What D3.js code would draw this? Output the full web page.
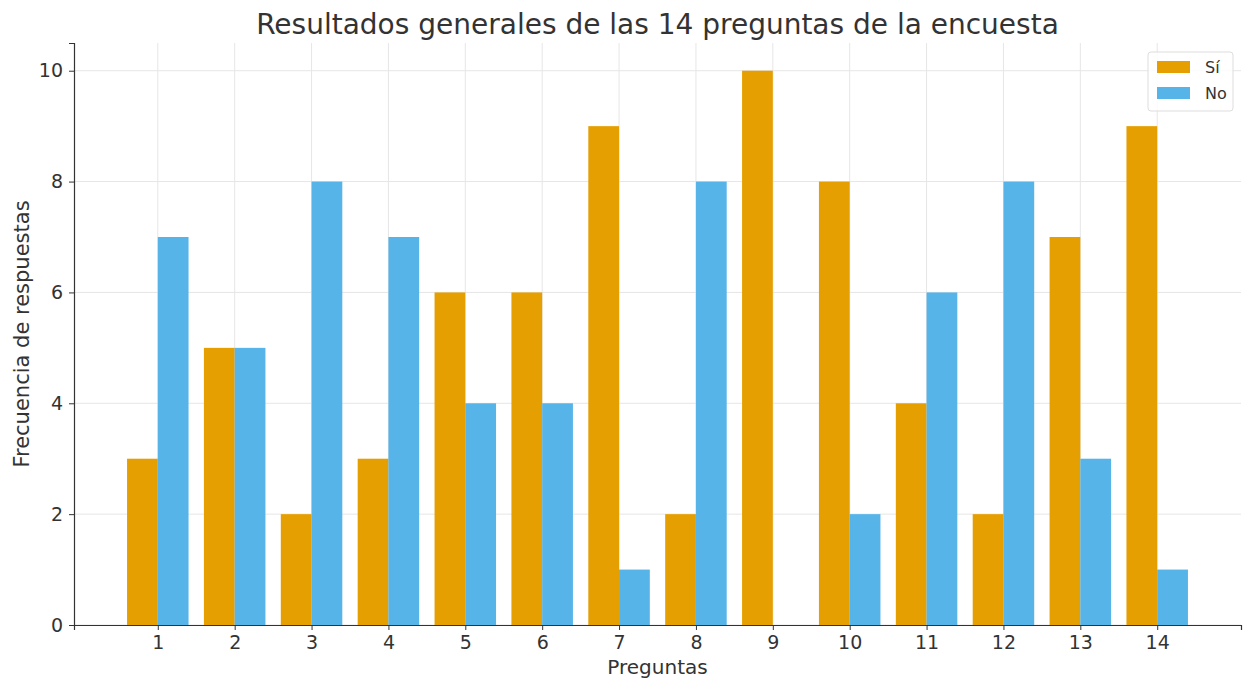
<!DOCTYPE html>
<html>
<head>
<meta charset="utf-8">
<script src="https://cdn.jsdelivr.net/npm/d3@7"></script>
<style>
  body { margin: 0; background: #fff; }
  text { font-family: "DejaVu Sans", sans-serif; fill: #333; }
</style>
</head>
<body>
<div id="chart"></div>
<script>
// Survey data
const questions = [1, 2, 3, 4, 5, 6, 7, 8, 9, 10, 11, 12, 13, 14];
const siValues = [3, 5, 2, 3, 6, 6, 9, 2, 10, 8, 4, 2, 7, 9];
const noValues = [7, 5, 8, 7, 4, 4, 1, 8, 0, 2, 6, 8, 3, 1];
const yTicks = [0, 2, 4, 6, 8, 10];
const seriesNames = ['Sí', 'No'];
const seriesColors = ['#E69F00', '#56B4E9'];

const W = 1244, H = 682;
const margin = { top: 43, right: 3, bottom: 57, left: 74 };
const barW = 0.4;

const svg = d3.select('#chart').append('svg')
    .attr('width', W)
    .attr('height', H);

const x = d3.scaleLinear()
    .domain([0.6 - 0.69, 14.4 + 0.69])
    .range([margin.left, W - margin.right]);

const y = d3.scaleLinear()
    .domain([0, 10.5])
    .range([H - margin.bottom, margin.top]);

// Grid
const grid = svg.append('g').attr('class', 'grid');
grid.selectAll('.gx')
    .data(questions)
    .enter().append('line')
    .attr('x1', d => x(d)).attr('x2', d => x(d))
    .attr('y1', y.range()[0]).attr('y2', y.range()[1])
    .attr('stroke', '#e6e6e6').attr('stroke-width', 1);
grid.selectAll('.gy')
    .data(yTicks)
    .enter().append('line')
    .attr('x1', x.range()[0]).attr('x2', x.range()[1])
    .attr('y1', d => y(d)).attr('y2', d => y(d))
    .attr('stroke', '#e6e6e6').attr('stroke-width', 1);

// Bars
const series = [siValues, noValues];
series.forEach((vals, i) => {
    svg.append('g').selectAll('rect')
        .data(questions)
        .enter().append('rect')
        .attr('x', d => x(d + (i === 0 ? -barW : 0)))
        .attr('width', x(barW) - x(0))
        .attr('y', (d, j) => y(vals[j]))
        .attr('height', (d, j) => y(0) - y(vals[j]))
        .attr('fill', seriesColors[i]);
});

// Axes
const xAxis = svg.append('g')
    .attr('transform', `translate(0,${y(0)})`)
    .call(d3.axisBottom(x).tickValues(questions).tickFormat(d3.format('d')).tickSize(5).tickPadding(6));
const yAxis = svg.append('g')
    .attr('transform', `translate(${x.range()[0]},0)`)
    .call(d3.axisLeft(y).tickValues(yTicks).tickSize(5).tickPadding(6));

[xAxis, yAxis].forEach(a => {
    a.select('.domain').attr('stroke', '#333').attr('stroke-width', 1.2);
    a.selectAll('.tick line').attr('stroke', '#333');
    a.selectAll('.tick text').style('font-size', '19px').attr('fill', '#333');
});

// Title and axis labels
svg.append('text')
    .attr('x', (x.range()[0] + x.range()[1]) / 2)
    .attr('y', 34)
    .attr('text-anchor', 'middle')
    .style('font-size', '28px')
    .text('Resultados generales de las 14 preguntas de la encuesta');

svg.append('text')
    .attr('x', (x.range()[0] + x.range()[1]) / 2)
    .attr('y', 674)
    .attr('text-anchor', 'middle')
    .style('font-size', '20px')
    .text('Preguntas');

svg.append('text')
    .attr('transform', 'rotate(-90)')
    .attr('x', -(y.range()[0] + y.range()[1]) / 2)
    .attr('y', 29)
    .attr('text-anchor', 'middle')
    .style('font-size', '21px')
    .text('Frecuencia de respuestas');

// Legend
const legend = svg.append('g').attr('transform', 'translate(1148,52)');
legend.append('rect')
    .attr('width', 85).attr('height', 59)
    .attr('rx', 3)
    .attr('fill', '#fff').attr('fill-opacity', 0.8)
    .attr('stroke', '#ddd');
seriesNames.forEach((name, i) => {
    legend.append('rect')
        .attr('x', 9).attr('y', 9 + i * 26)
        .attr('width', 33).attr('height', 12)
        .attr('fill', seriesColors[i]);
    legend.append('text')
        .attr('x', 57).attr('y', 21 + i * 26)
        .style('font-size', '16px')
        .text(name);
});
</script>
</body>
</html>
